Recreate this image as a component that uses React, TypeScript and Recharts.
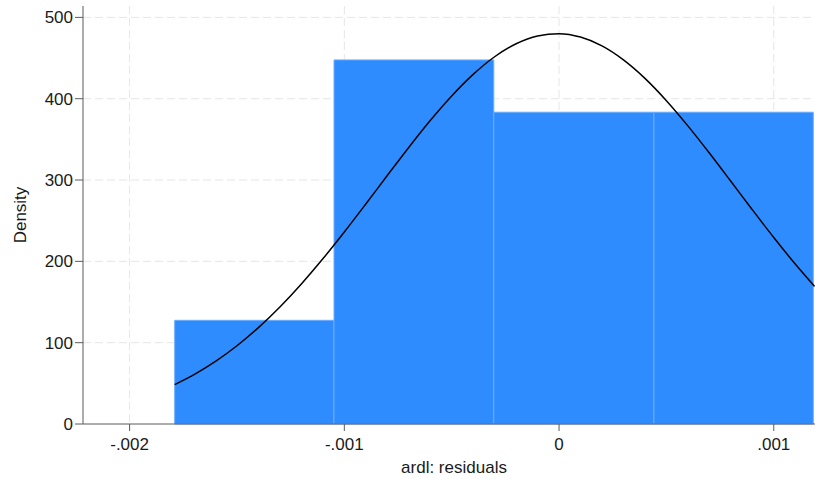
import React from "react";
import { ComposedChart, Line, XAxis, YAxis, CartesianGrid, ReferenceArea, Label } from "recharts";

// histogram bins of the ARDL residuals (edges + density)
const binStart = [-0.00179, -0.001048, -0.000304, 0.000442];
const binEnd = [-0.001048, -0.000304, 0.000442, 0.001184];
const binDensity = [127.5, 447.7, 383.4, 383.4];

// normal density overlay
const curveX = [
  -0.00179, -0.0017, -0.0016, -0.0015, -0.0014, -0.0013, -0.0012, -0.0011, -0.001, -0.0009,
  -0.0008, -0.0007, -0.0006, -0.0005, -0.0004, -0.0003, -0.0002, -0.0001, 0, 0.0001,
  0.0002, 0.0003, 0.0004, 0.0005, 0.0006, 0.0007, 0.0008, 0.0009, 0.001, 0.0011, 0.00119,
];
const curveDensity = [
  48.4, 60.7, 76.9, 96.2, 118.5, 143.9, 172.2, 203.1, 236.1, 270.5,
  305.5, 340.0, 373.1, 403.4, 429.9, 451.6, 467.6, 477.2, 480.0, 475.8,
  464.9, 447.7, 425.0, 397.6, 366.6, 333.2, 298.5, 263.5, 229.3, 196.7, 169.2,
];

const xTicks = [-0.002, -0.001, 0, 0.001];
const yTicks = [0, 100, 200, 300, 400, 500];

const curveData = curveX.map((x, i) => ({ x, density: curveDensity[i] }));

const FONT = "'Liberation Sans', Arial, sans-serif";
const fmtX = (v: number) => {
  if (v === 0) return "0";
  const s = String(Number(v.toFixed(4)));
  return s.replace("0.", ".");
};

export default function App() {
  return (
    <div style={{ position: "absolute", left: 0, top: 0, background: "#fff" }}>
      <ComposedChart
        width={816}
        height={479}
        data={curveData}
        margin={{ top: 6, right: 1, left: 0, bottom: 0 }}
        style={{ fontFamily: FONT }}
      >
        <CartesianGrid
          stroke="#e6e6e6"
          strokeDasharray="8 4"
          horizontalValues={[100, 200, 300, 400, 500]}
          verticalValues={xTicks}
        />
        <XAxis
          dataKey="x"
          type="number"
          domain={[-0.002217, 0.001192]}
          ticks={xTicks}
          tickFormatter={fmtX}
          allowDataOverflow
          height={55}
          tickSize={7}
          tickMargin={7}
          stroke="#5a5a5a"
          tick={{ fill: "#1a1a1a", fontSize: 17 }}
        >
          <Label
            content={({ viewBox }: any) => (
              <text
                x={viewBox.x + viewBox.width / 2 + 5}
                y={473}
                textAnchor="middle"
                fontSize={17}
                fill="#1a1a1a"
              >
                ardl: residuals
              </text>
            )}
          />
        </XAxis>
        <YAxis
          type="number"
          domain={[0, 514]}
          ticks={yTicks}
          width={83}
          tickSize={8}
          tickMargin={2}
          stroke="#5a5a5a"
          tick={{ fill: "#1a1a1a", fontSize: 17 }}
        >
          <Label
            content={({ viewBox }: any) => {
              const cy = viewBox.y + viewBox.height / 2;
              return (
                <text
                  x={20}
                  y={cy}
                  transform={`rotate(-90, 20, ${cy})`}
                  textAnchor="middle"
                  dominantBaseline="central"
                  fontSize={17}
                  fill="#1a1a1a"
                >
                  Density
                </text>
              );
            }}
          />
        </YAxis>
        {binDensity.map((d, i) => (
          <ReferenceArea
            key={i}
            x1={binStart[i]}
            x2={binEnd[i]}
            y1={0}
            y2={d}
            fill="#2e8cff"
            fillOpacity={1}
            stroke="#6aacff"
            strokeWidth={1}
            ifOverflow="visible"
          />
        ))}
        <Line
          type="monotone"
          dataKey="density"
          stroke="#000"
          strokeWidth={1.5}
          dot={false}
          isAnimationActive={false}
        />
      </ComposedChart>
    </div>
  );
}
